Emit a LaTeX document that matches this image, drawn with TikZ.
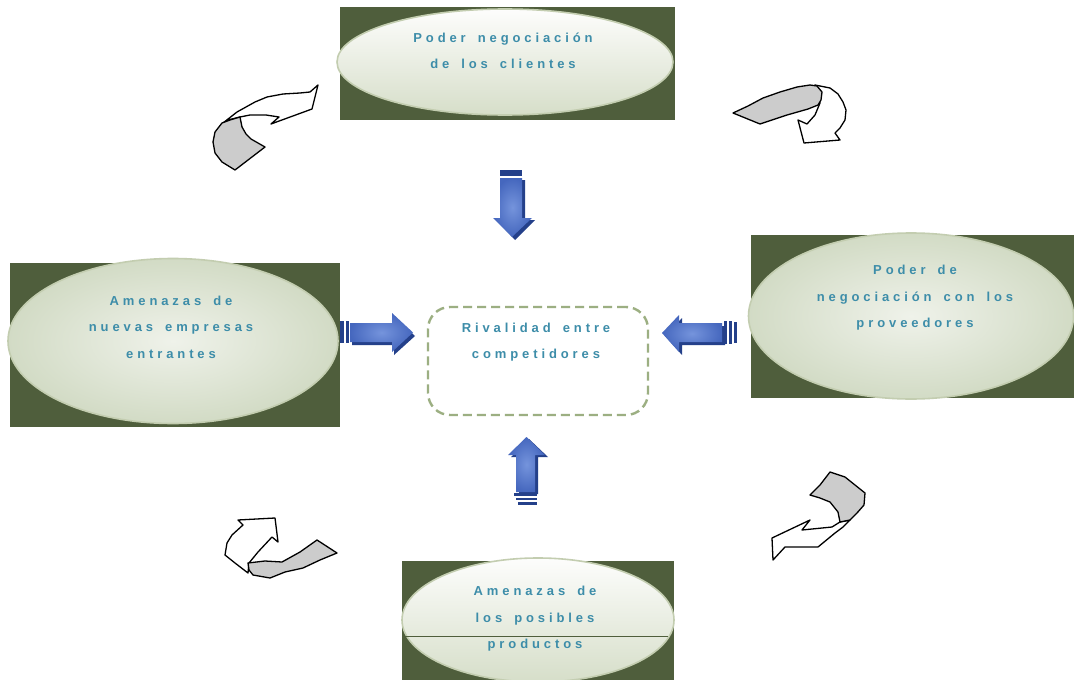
\documentclass[tikz,border=0pt]{standalone}
\usepackage{fontspec}
\setmainfont{Liberation Sans}
\newfontfamily\lblfont[LetterSpace=30,WordSpace=1.6]{Liberation Sans Bold}
\usetikzlibrary{shapes.geometric}
\definecolor{boxgreen}{HTML}{4F5E3C}
\definecolor{ellborder}{HTML}{C3CDB0}
\definecolor{elltop}{HTML}{FDFDFC}
\definecolor{ellbot}{HTML}{D6DEC9}
\definecolor{ellin}{HTML}{EFF2EA}
\definecolor{ellout}{HTML}{D2DBC5}
\definecolor{txt}{HTML}{3D8DA9}
\definecolor{dashgreen}{HTML}{9CAF82}
\definecolor{bluemain}{HTML}{4567BE}
\definecolor{bluelight}{HTML}{7594DC}
\definecolor{bluedark}{HTML}{24408A}
\definecolor{curlgray}{HTML}{CCCCCC}
\begin{document}
\begin{tikzpicture}[x=1pt,y=-1pt,
  lbl/.style={font=\lblfont\fontsize{13}{26.5}\selectfont, text=txt, align=center, inner sep=0pt},
  ell/.style={ellipse, draw=ellborder, line width=1.6pt, top color=elltop, bottom color=ellbot, inner sep=0pt},
  ellr/.style={ellipse, draw=ellborder, line width=1.6pt, inner color=ellin, outer color=ellout, inner sep=0pt},
  darkbox/.style={fill=boxgreen},
  curlline/.style={draw=black, line width=1.3pt, line join=round},
  bluebody/.style={inner color=bluelight, outer color=bluemain},
  rivalbox/.style={draw=dashgreen, line width=2.4pt, dash pattern=on 9pt off 5pt, rounded corners=22pt, minimum width=220pt, minimum height=108pt}
]
\useasboundingbox (0,0) rectangle (1074,680);
\fill[white] (0,0) rectangle (1074,680);

% dark backgrounds
\fill[darkbox] (340,7) rectangle (675,120);
\fill[darkbox] (10,263) rectangle (340,427);
\fill[darkbox] (751,235) rectangle (1074,398);
\fill[darkbox] (402,561) rectangle (674,680);

% ellipses
\node[ell, minimum width=336pt, minimum height=106pt] (eTop) at (505,62) {};
\node[ellr, minimum width=330pt, minimum height=165pt] (eLeft) at (173,341) {};
\node[ellr, minimum width=325pt, minimum height=166pt] (eRight) at (911,316) {};
\node[ell, minimum width=272pt, minimum height=124pt] (eBot) at (538,620) {};
\draw[boxgreen, line width=0.8pt] (405,636) -- (668,636);

% center box
\node[rivalbox] (rival) at (538,361) {};

% labels
\node[lbl] (tTop) at (503,51) {Poder negociación\\de los clientes};
\node[lbl] (tLeft) at (171,327) {Amenazas de\\nuevas empresas\\entrantes};
\node[lbl] (tRight) at (915,298) {Poder de\\negociación con los\\proveedores};
\node[lbl] (tBot) at (535,619) {Amenazas de\\los posibles\\productos};
\node[lbl] (tRival) at (536,342) {Rivalidad entre\\competidores};

% blue arrows
% down
\fill[bluedark] (503,180) -- (525,180) -- (525,220) -- (535,220) -- (515,240) -- (496,220) -- (503,220) -- cycle;
\shade[bluebody] (500,178) -- (522,178) -- (522,218) -- (532,218) -- (512,237) -- (493,218) -- (500,218) -- cycle;
\fill[bluedark] (500,170) rectangle (522,176);
% right
\fill[bluedark] (352,326) -- (394,326) -- (394,316) -- (415,336) -- (394,355) -- (394,345) -- (352,345) -- cycle;
\shade[bluebody] (350,323) -- (392,323) -- (392,313) -- (413,332.5) -- (392,352) -- (392,342) -- (350,342) -- cycle;
\fill[bluedark] (340,321) rectangle (344,343);
\fill[bluedark] (345.5,321) rectangle (349,343);
% left
\fill[bluedark] (665,336) -- (682,318) -- (682,326) -- (725,326) -- (725,345) -- (682,345) -- (682,355) -- cycle;
\shade[bluebody] (662,333) -- (679,315) -- (679,323) -- (722,323) -- (722,342) -- (679,342) -- (679,352) -- cycle;
\fill[bluedark] (723.5,321) rectangle (727,344);
\fill[bluedark] (728.5,321) rectangle (732,344);
\fill[bluedark] (733.5,322) rectangle (737,343);
% up
\fill[bluedark] (529,439) -- (548,457) -- (538,457) -- (538,494) -- (519,494) -- (519,457) -- (511,457) -- cycle;
\shade[bluebody] (526.5,437) -- (545,455) -- (535,455) -- (535,492) -- (516,492) -- (516,455) -- (508,455) -- cycle;
\fill[bluedark] (514,493) rectangle (537,496);
\fill[bluedark] (516,498) rectangle (537,500);
\fill[bluedark] (518,502) rectangle (537,504.5);

% curled arrows
% top-left
\filldraw[curlline, fill=white] (223,123) -- (237,112) -- (255,102) -- (267,97) -- (283,94) -- (300,93) -- (310,92) -- (318,85) -- (312,109) -- (271,124) -- (279,117) -- (266,115) -- (250,115) -- (240,117) -- (228,120) -- cycle;
\filldraw[curlline, fill=curlgray] (240,117) -- (242,127) -- (246,134) -- (251,139) -- (265,147) -- (235,170) -- (222,162) -- (215,153) -- (213,142) -- (215,132) -- (222,123) -- (230,120) -- cycle;
% top-right
\filldraw[curlline, fill=white] (815,85) -- (830,88) -- (838,94) -- (843,102) -- (846,110) -- (845,120) -- (840,128) -- (835,133) -- (840,140) -- (804,143) -- (798,120) -- (807,124) -- (815,115) -- (820,103) -- cycle;
\filldraw[curlline, fill=curlgray] (733,113) -- (748,106) -- (763,98) -- (780,92) -- (797,87) -- (810,85) -- (817,86) -- (822,92) -- (821,100) -- (818,105) -- (808,109) -- (787,115) -- (760,124) -- cycle;
% bottom-left
\filldraw[curlline, fill=white] (275,518) -- (238,520) -- (243,525) -- (232,535) -- (227,543) -- (225,555) -- (235,563) -- (248,573) -- (249,563) -- (258,552) -- (272,537) -- (278,542) -- cycle;
\filldraw[curlline, fill=curlgray] (248,563) -- (265,561) -- (282,562) -- (300,552) -- (317,540) -- (337,553) -- (320,560) -- (303,568) -- (285,572) -- (270,578) -- (253,575) -- (249,570) -- cycle;
% bottom-right
\filldraw[curlline, fill=white] (840,522) -- (850,520) -- (843,527) -- (835,533) -- (818,547) -- (800,547) -- (785,547) -- (773,560) -- (772,538) -- (810,520) -- (802,530) -- (822,528) -- (832,527) -- cycle;
\filldraw[curlline, fill=curlgray] (810,495) -- (820,485) -- (830,472) -- (845,477) -- (855,485) -- (865,493) -- (864,505) -- (857,513) -- (850,520) -- (840,522) -- (838,512) -- (830,502) -- (820,498) -- cycle;
\end{tikzpicture}
\end{document}
